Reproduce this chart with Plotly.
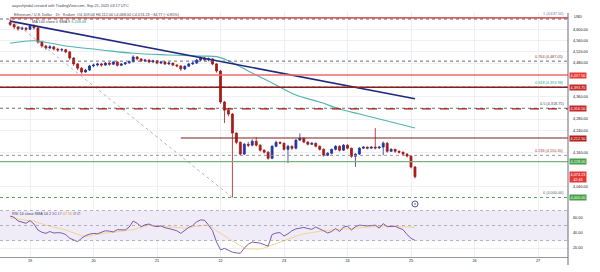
import plotly.graph_objects as go
import pandas as pd

# ---------------- data ----------------
bar_start = "2025-09-18 16:30"
bar_minutes = 90
first_open = 4625.0
closes = [4618, 4609, 4602, 4605, 4601, 4612, 4606, 4555, 4541, 4534,
          4538, 4530, 4527, 4528, 4520, 4498, 4477, 4462, 4448, 4455,
          4470, 4473, 4477, 4473, 4480, 4476, 4484, 4472, 4477, 4481,
          4485, 4502, 4495, 4488, 4491, 4484, 4488, 4480, 4484, 4477,
          4480, 4473, 4470, 4459, 4469, 4477, 4480, 4491, 4498, 4491,
          4495, 4477, 4452, 4341, 4312, 4298, 4230, 4197, 4155, 4190,
          4187, 4201, 4187, 4169, 4162, 4140, 4183, 4197, 4194, 4172,
          4183, 4176, 4205, 4212, 4198, 4190, 4194, 4183, 4172, 4151,
          4158, 4172, 4183, 4169, 4187, 4176, 4147, 4155, 4176, 4180,
          4176, 4180, 4177, 4180, 4194, 4165, 4172, 4165, 4162, 4155,
          4148, 4109, 4074.23]
highs = [4637.5, 4622, 4612, 4610, 4608, 4616, 4618, 4610, 4560, 4545,
         4544, 4541, 4535, 4534, 4531, 4524, 4502, 4480, 4466, 4460,
         4474, 4478, 4481, 4481, 4484, 4483, 4488, 4486, 4480, 4484,
         4489, 4508, 4505, 4498, 4495, 4493, 4492, 4490, 4488, 4487,
         4484, 4482, 4476, 4472, 4472, 4481, 4485, 4495, 4505, 4502,
         4500, 4497, 4480, 4455, 4345, 4318, 4302, 4233, 4200, 4195,
         4198, 4208, 4216, 4190, 4172, 4165, 4187, 4203, 4200, 4196,
         4188, 4186, 4208, 4229, 4214, 4200, 4197, 4196, 4186, 4176,
         4162, 4175, 4187, 4186, 4191, 4190, 4178, 4158, 4180, 4183,
         4182, 4183, 4248, 4184, 4200, 4198, 4176, 4174, 4168, 4164,
         4158, 4150, 4112]
lows = [4612, 4602, 4596, 4598, 4595, 4598, 4600, 4550, 4535, 4528,
        4530, 4525, 4520, 4521, 4515, 4492, 4470, 4455, 4442, 4446,
        4452, 4465, 4468, 4467, 4470, 4471, 4473, 4468, 4469, 4473,
        4478, 4482, 4490, 4484, 4484, 4480, 4481, 4476, 4477, 4473,
        4474, 4469, 4465, 4452, 4455, 4466, 4474, 4477, 4488, 4487,
        4486, 4472, 4446, 4335, 4266, 4290, 4000, 4190, 4150, 4152,
        4180, 4183, 4182, 4164, 4157, 4135, 4137, 4180, 4190, 4168,
        4123, 4170, 4172, 4202, 4194, 4186, 4187, 4179, 4168, 4146,
        4148, 4154, 4168, 4164, 4166, 4172, 4142, 4110, 4152, 4173,
        4172, 4174, 4172, 4174, 4151, 4160, 4163, 4160, 4157, 4150,
        4143, 4104, 4068]
rsi_vals = [62.5, 61, 56, 54, 53, 56.5, 52, 44, 41, 39.5,
            42, 40, 40.5, 40, 38, 33, 31, 28.5, 33, 36.5,
            38.5, 39.5, 39, 40.5, 43, 42.5, 41.5, 44.5, 44.5, 44,
            48, 56, 53, 48.5, 51, 52, 49.5, 48.5, 49.5, 47,
            46, 45, 43, 39.5, 44, 47.5, 50, 55, 57.5, 57,
            50.5, 43, 28, 17.5, 19.5, 17, 14.5, 13.5, 13, 20,
            25, 28, 27.5, 26.5, 24.5, 22.5, 38, 40, 40.5, 36,
            39, 43, 45.5, 46.5, 47.5, 46, 45, 48, 46, 43,
            40, 42, 46, 42, 48, 49, 44, 48.5, 50.5, 50,
            49.5, 50, 50.5, 46.5, 52.5, 48.5, 49, 49, 46.5, 44.5,
            38, 33, 30.17]
rsi_ma_vals = [60, 59.5, 59, 58, 57, 56.5, 56, 54, 52, 50.5,
               49, 48, 47, 45.5, 44, 42, 40, 38, 36.5, 35.5,
               36, 37.5, 38.5, 39.5, 40, 40.5, 41, 41.5, 42, 43,
               43.5, 44.5, 46, 47.5, 49, 50.5, 50, 49.5, 49, 48.5,
               48, 47, 46.5, 46, 46.5, 47.5, 48.5, 49.5, 50, 50.5,
               49.5, 47, 43, 40, 36.5, 33, 29.5, 26, 22.5, 20,
               19, 18.5, 18.5, 18.5, 20, 22, 24, 26.5, 28.5, 30.5,
               32.5, 34.5, 36.5, 37.5, 39, 40, 41, 41.5, 42, 43,
               43.5, 44, 44.5, 45, 45.5, 46, 46.5, 47, 47, 47.5,
               48, 48.5, 49, 49.3, 49.5, 49.5, 49, 49, 48.5, 48.5,
               48, 47.5, 47.5]
ma100_idx = [0, 6, 14, 23, 31, 40, 48, 52, 55, 60, 63, 66, 72, 78, 83, 88, 92, 97, 102]
ma100_val = [4551, 4560, 4541, 4527, 4515, 4509, 4505, 4503, 4488, 4452,
             4430, 4409, 4366, 4341, 4316, 4298, 4284, 4266, 4248.48]
trend_idx = [0, 102]
trend_val = [4630, 4353]
fib_high, fib_low = 4637.5, 4000.0
fib_anchor_idx = [0, 56]
fib_ratios = [1, 0.764, 0.618, 0.5, 0.236, 0]
# horizontal levels: price, start bar index (None = whole chart)
red_levels = [4437.5, 4393.75, 4316.5, 4212.5]
red_level_start = [None, None, 4, 43]
green_levels = [4128.0, 4000.0]
price_ticks = [4040, 4160, 4240, 4280, 4360, 4480, 4520, 4560, 4600]
rsi_ticks = [20, 40, 60]
day_ticks = ["2025-09-19", "2025-09-20", "2025-09-21", "2025-09-22", "2025-09-23",
             "2025-09-24", "2025-09-25", "2025-09-26", "2025-09-27"]
day_labels = ["19", "20", "21", "22", "23", "24", "25", "26", "27"]

# ---------------- derived ----------------
times = [pd.Timestamp(bar_start) + pd.Timedelta(minutes=bar_minutes * i) for i in range(len(closes))]
opens = [first_open] + closes[:-1]
fib_prices = [fib_low + r * (fib_high - fib_low) for r in fib_ratios]

W, H = 600, 272
PX_DAY = 63.5
x_left = pd.Timestamp("2025-09-19") - pd.Timedelta(days=30 / PX_DAY)
x_right = pd.Timestamp("2025-09-19") + pd.Timedelta(days=538 / PX_DAY)
FONT = "Liberation Sans, Arial, sans-serif"
FS = 3.8
UP, DN = "#22349e", "#a51b1b"

def py(p):  # paper y from pixel y
    return 1 - p / H

fig = go.Figure()

fig.add_trace(go.Candlestick(
    x=times, open=opens, high=highs, low=lows, close=closes,
    increasing=dict(line=dict(color=UP, width=0.8), fillcolor=UP),
    decreasing=dict(line=dict(color=DN, width=0.8), fillcolor=DN),
    whiskerwidth=0, xaxis="x", yaxis="y", showlegend=False, hoverinfo="skip"))

fig.add_trace(go.Scatter(
    x=[times[i] for i in ma100_idx], y=ma100_val, mode="lines",
    line=dict(color="#4fb3b0", width=1.1, shape="spline"),
    xaxis="x", yaxis="y", showlegend=False, hoverinfo="skip"))

fig.add_trace(go.Scatter(
    x=[times[i] for i in trend_idx], y=trend_val, mode="lines",
    line=dict(color="#1f2a80", width=1.6),
    xaxis="x", yaxis="y", showlegend=False, hoverinfo="skip"))

fig.add_trace(go.Scatter(
    x=times, y=rsi_ma_vals, mode="lines", line=dict(color="#f5cf85", width=0.9),
    xaxis="x2", yaxis="y2", showlegend=False, hoverinfo="skip"))
fig.add_trace(go.Scatter(
    x=times, y=rsi_vals, mode="lines", line=dict(color="#7d5aa8", width=1),
    xaxis="x2", yaxis="y2", showlegend=False, hoverinfo="skip"))

# event marker
fig.add_trace(go.Scatter(
    x=[times[-1]], y=[3977], mode="markers", cliponaxis=False,
    marker=dict(symbol="circle-open-dot", size=6, color="#2a2e6e", line=dict(width=0.8)),
    xaxis="x", yaxis="y", showlegend=False, hoverinfo="skip"))

shapes = []
# RSI band and dashed levels
shapes.append(dict(type="rect", xref="x2", yref="y2", x0=x_left, x1=x_right, y0=30, y1=70,
                   fillcolor="rgba(126,87,194,0.12)", line=dict(width=0), layer="below"))
for lv in (70, 50, 30):
    shapes.append(dict(type="line", xref="x2", yref="y2", x0=x_left, x1=x_right, y0=lv, y1=lv,
                       line=dict(color="#9598a1", width=0.7, dash="dot")))

# fib levels (dotted)
fib_line_colors = ["#555a66", "#555a66", "#555a66", "#555a66", "#8a8d96", "#5f9f62"]
for p, c in zip(fib_prices, fib_line_colors):
    shapes.append(dict(type="line", xref="x", yref="y", x0=x_left, x1=x_right, y0=p, y1=p,
                       line=dict(color=c, width=0.9, dash="dot")))
# fib diagonal
shapes.append(dict(type="line", xref="x", yref="y",
                   x0=times[fib_anchor_idx[0]], y0=fib_high, x1=times[fib_anchor_idx[1]], y1=fib_low,
                   line=dict(color="#a0a3aa", width=0.8, dash="dot")))
# top red line
shapes.append(dict(type="line", xref="x", yref="y", x0=times[0], x1=x_right, y0=fib_high + 4, y1=fib_high + 4,
                   line=dict(color="#c62828", width=1.2)))
# red levels
red_styles = [dict(color="#ef6b6b", width=1.4), dict(color="#8e1b1b", width=1.3),
              dict(color="#a31515", width=1.3, dash="dash"), dict(color="#7e1d1d", width=1.2)]
for p, s, st in zip(red_levels, red_level_start, red_styles):
    x0 = x_left if s is None else times[s]
    shapes.append(dict(type="line", xref="x", yref="y", x0=x0, x1=x_right, y0=p, y1=p, line=st))
# green level
shapes.append(dict(type="line", xref="x", yref="y", x0=x_left, x1=x_right, y0=green_levels[0], y1=green_levels[0],
                   line=dict(color="#7fae7f", width=1.3)))
shapes.append(dict(type="line", xref="x", yref="y", x0=x_left, x1=x_right, y0=green_levels[1], y1=green_levels[1],
                   line=dict(color="#5f9f62", width=1.1, dash="dot")))
# price-axis border
shapes.append(dict(type="line", xref="paper", yref="paper", x0=1, x1=1, y0=py(265), y1=py(13),
                   line=dict(color="#6a6d78", width=1)))

ann = []
def txt(x, y, s, color="#131722", xanchor="left", size=FS, xref="paper", yref="paper", **kw):
    ann.append(dict(x=x, y=y, xref=xref, yref=yref, text=s, showarrow=False, xanchor=xanchor,
                    yanchor="middle", font=dict(family=FONT, size=size, color=color), **kw))

PW = 568.0
txt(10 / PW, py(6), "aayushjindal created with TradingView.com, Sep 25, 2025 03:17 UTC", color="#434651")
chg = closes[-1] - opens[-1]
txt(12 / PW, py(14.5),
    "Ethereum / U.S. Dollar · 1h · Kraken  O{:,.2f} H{:,.2f} L{:,.2f} C{:,.2f} {:+.2f} ({:+.2f}%)".format(
        opens[-1], highs[-1], lows[-1], closes[-1], chg, chg / opens[-1] * 100).replace("-", "−"),
    color="#434651")
txt(30 / PW, py(22), "MA 100 close 0 SMA 9 <span style='color:#26a69a'>{:,.2f}</span>".format(ma100_val[-1]),
    color="#434651")
txt(10 / PW, py(213.5),
    "RSI 14 close SMA 14 2 <span style='color:#7e57c2'>{:.2f}</span> <span style='color:#e0a82e'>{:.2f}</span> ∅ ∅".format(
        rsi_vals[-1], rsi_ma_vals[-1]), color="#434651")
txt(1, py(17), "USD", xshift=4, color="#131722")

# fib labels
fib_label_colors = ["#6b7aa1", "#8b3a3a", "#26a69a", "#434651", "#b0413e", "#5d606b"]
for r, p, c in zip(fib_ratios, fib_prices, fib_label_colors):
    label = "{} ({:,.2f})".format(("%g" % r), p)
    ann.append(dict(x=1, y=p, xref="paper", yref="y", text=label, showarrow=False, xanchor="right",
                    yanchor="bottom", xshift=-2, yshift=0.5, font=dict(family=FONT, size=FS, color=c)))

# price axis colored labels
def axis_box(p, s, bg, yref="y"):
    ann.append(dict(x=1, y=p, xref="paper", yref=yref, text=s, showarrow=False, xanchor="left",
                    yanchor="middle", xshift=1, bgcolor=bg, borderpad=0.6,
                    font=dict(family=FONT, size=FS, color="white")))
red_box_colors = ["#e53935", "#c62828", "#c62828", "#b71c1c"]
for p, c in zip(red_levels, red_box_colors):
    axis_box(p, "{:,.2f}".format(p), c)
for p in green_levels:
    axis_box(p, "{:,.2f}".format(p), "#43a047")
axis_box(closes[-1], "{:,.2f}<br>42:43".format(closes[-1]), "#e53935")

fig.update_layout(
    width=W, height=H, margin=dict(l=0, r=32, t=0, b=0),
    paper_bgcolor="white", plot_bgcolor="white",
    shapes=shapes, annotations=ann, showlegend=False,
    font=dict(family=FONT, size=FS, color="#131722"),
    xaxis=dict(domain=[0, 1], anchor="y", range=[x_left, x_right], type="date",
               rangeslider=dict(visible=False), showticklabels=False,
               tickvals=day_ticks, showgrid=True, gridcolor="#eceff4", gridwidth=1, zeroline=False),
    yaxis=dict(domain=[py(206), py(12)], anchor="x", side="right", range=[3969.7, 4662.5],
               tickvals=price_ticks, ticktext=["{:,.2f}".format(v) for v in price_ticks],
               showgrid=True, gridcolor="#eef0f5", zeroline=False, ticks="",
               ticklabelstandoff=4, tickfont=dict(family=FONT, size=FS, color="#131722")),
    xaxis2=dict(domain=[0, 1], anchor="y2", range=[x_left, x_right], type="date",
                tickvals=day_ticks, ticktext=day_labels, showgrid=True, gridcolor="#eceff4",
                showline=True, linecolor="#9598a1", linewidth=1, ticks="", zeroline=False,
                tickfont=dict(family=FONT, size=FS, color="#131722")),
    yaxis2=dict(domain=[py(256.5), py(207)], anchor="x2", side="right", range=[8.7, 74.7],
                tickvals=rsi_ticks, ticktext=["{:.2f}".format(v) for v in rsi_ticks],
                showgrid=True, gridcolor="#eef0f5", zeroline=False, ticks="",
                ticklabelstandoff=4, tickfont=dict(family=FONT, size=FS, color="#131722")),
)

fig.write_html("out.html", config={"displayModeBar": False})
